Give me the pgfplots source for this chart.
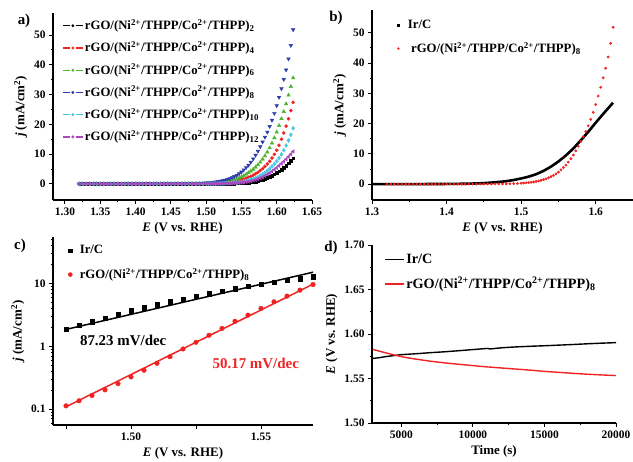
\documentclass[border=0pt]{standalone}
\usepackage{pgfplots}
\pgfplotsset{compat=1.18}
\usepackage{pgfplotstable}
\usepackage{fontspec}
\setmainfont{Liberation Serif}

\definecolor{cred}{RGB}{240,35,35}
\definecolor{cgreen}{RGB}{80,180,50}
\definecolor{cblue}{RGB}{45,60,170}
\definecolor{ccyan}{RGB}{70,200,230}
\definecolor{cmag}{RGB}{170,70,190}

\newcommand{\rgo}[1]{rGO/(Ni\textsuperscript{2+}/THPP/Co\textsuperscript{2+}/THPP)\textsubscript{#1}}

% LSV curves, panel a (a8 is reused in panel b)
\pgfplotstableread{
E a2 a4 a6 a8 a10 a12
1.320 0.02 0.03 0.05 0.04 0.03 0.02
1.325 0.02 0.03 0.05 0.04 0.03 0.02
1.330 0.02 0.03 0.05 0.04 0.03 0.02
1.335 0.02 0.03 0.05 0.04 0.03 0.02
1.340 0.02 0.03 0.05 0.04 0.03 0.02
1.345 0.02 0.03 0.05 0.04 0.03 0.02
1.350 0.02 0.03 0.05 0.04 0.03 0.02
1.355 0.02 0.03 0.05 0.04 0.03 0.02
1.360 0.02 0.03 0.05 0.04 0.03 0.02
1.365 0.02 0.03 0.05 0.04 0.03 0.02
1.370 0.02 0.03 0.05 0.04 0.03 0.02
1.375 0.02 0.03 0.05 0.04 0.03 0.02
1.380 0.02 0.03 0.05 0.04 0.03 0.02
1.385 0.02 0.03 0.05 0.04 0.03 0.02
1.390 0.02 0.03 0.05 0.04 0.03 0.02
1.395 0.02 0.03 0.05 0.04 0.03 0.02
1.400 0.02 0.03 0.05 0.04 0.03 0.02
1.405 0.03 0.05 0.07 0.06 0.04 0.03
1.410 0.03 0.05 0.07 0.06 0.04 0.03
1.415 0.03 0.05 0.07 0.06 0.04 0.03
1.420 0.03 0.05 0.07 0.06 0.04 0.03
1.425 0.03 0.05 0.07 0.06 0.04 0.03
1.430 0.03 0.05 0.07 0.06 0.04 0.03
1.435 0.03 0.05 0.07 0.06 0.04 0.03
1.440 0.03 0.05 0.07 0.06 0.04 0.03
1.445 0.03 0.05 0.08 0.07 0.04 0.03
1.450 0.03 0.06 0.09 0.075 0.05 0.04
1.455 0.03 0.06 0.10 0.08 0.05 0.04
1.460 0.03 0.07 0.11 0.085 0.05 0.04
1.465 0.035 0.07 0.12 0.09 0.05 0.045
1.470 0.035 0.08 0.13 0.10 0.05 0.045
1.475 0.035 0.08 0.14 0.113 0.055 0.05
1.480 0.035 0.09 0.15 0.136 0.055 0.05
1.485 0.04 0.09 0.17 0.165 0.06 0.05
1.490 0.04 0.10 0.18 0.203 0.06 0.055
1.495 0.04 0.11 0.20 0.255 0.065 0.055
1.5000 0.04 0.12 0.22 0.33 0.07 0.06
1.5033 0.045 0.14 0.26 0.39 0.08 0.065
1.5067 0.05 0.17 0.30 0.46 0.09 0.07
1.5100 0.05 0.20 0.35 0.54 0.10 0.08
1.5133 0.055 0.24 0.41 0.63 0.11 0.09
1.5167 0.06 0.28 0.48 0.75 0.13 0.10
1.5200 0.07 0.33 0.56 0.91 0.15 0.11
1.5233 0.08 0.39 0.66 1.07 0.17 0.13
1.5267 0.09 0.46 0.78 1.27 0.20 0.15
1.5300 0.10 0.54 0.92 1.50 0.23 0.17
1.5333 0.12 0.64 1.08 1.78 0.27 0.20
1.5367 0.14 0.75 1.27 2.12 0.32 0.23
1.5400 0.16 0.88 1.50 2.50 0.38 0.27
1.5433 0.19 1.03 1.75 2.91 0.46 0.32
1.5467 0.23 1.20 2.05 3.42 0.55 0.38
1.5500 0.28 1.40 2.40 4.01 0.66 0.46
1.5533 0.33 1.63 2.80 4.74 0.80 0.55
1.5567 0.40 1.90 3.25 5.51 0.95 0.66
1.5600 0.48 2.20 3.75 6.30 1.15 0.80
1.5633 0.58 2.55 4.30 7.30 1.38 0.96
1.5667 0.70 2.95 4.90 8.43 1.65 1.15
1.5700 0.84 3.40 5.60 9.64 1.95 1.38
1.5733 1.00 3.90 6.40 11.0 2.30 1.65
1.5767 1.20 4.50 7.30 12.5 2.75 1.95
1.5800 1.43 5.15 8.30 14.1 3.25 2.30
1.5833 1.70 5.90 9.40 15.7 3.80 2.70
1.5867 2.00 6.70 10.7 17.4 4.40 3.15
1.5900 2.35 7.60 12.1 19.3 5.10 3.65
1.5933 2.75 8.70 13.7 21.4 5.90 4.20
1.5967 3.20 9.90 15.5 23.7 6.70 4.80
1.6000 3.70 11.3 17.4 26.3 7.60 5.40
1.6033 4.25 13.0 19.6 29.1 8.70 6.10
1.6067 4.85 15.0 21.9 32.0 9.90 6.80
1.6100 5.50 17.1 24.3 35.1 11.3 7.50
1.6133 6.20 19.4 26.9 38.3 12.9 8.30
1.6167 7.00 21.9 29.8 42.0 14.6 9.10
1.6200 7.80 24.6 32.7 46.5 16.5 10.0
1.6233 8.70 27.4 35.6 51.8 18.7 10.9
}\lsv

% Ir/C LSV, panel b
\pgfplotstableread{
E j
1.300 0.02
1.310 0.02
1.320 0.03
1.330 0.03
1.340 0.04
1.350 0.04
1.360 0.05
1.370 0.06
1.380 0.07
1.390 0.08
1.400 0.10
1.410 0.12
1.420 0.15
1.430 0.19
1.440 0.26
1.450 0.36
1.460 0.55
1.470 0.75
1.480 1.00
1.490 1.40
1.500 1.90
1.510 2.50
1.520 3.30
1.530 4.40
1.540 5.80
1.550 7.50
1.560 9.50
1.570 11.8
1.580 14.5
1.590 17.3
1.600 20.3
1.610 23.2
1.620 26.0
1.6232 26.9
}\irc

% Tafel data, panel c
\pgfplotstableread{
E ir rgo
1.475 1.86 0.113
1.480 2.18 0.136
1.485 2.47 0.165
1.490 2.82 0.203
1.495 3.22 0.255
1.500 3.68 0.326
1.505 4.11 0.416
1.510 4.58 0.537
1.515 5.12 0.685
1.520 5.64 0.908
1.525 6.22 1.16
1.530 6.86 1.50
1.535 7.56 1.93
1.540 8.23 2.50
1.545 9.07 3.14
1.550 9.75 4.01
1.555 10.4 5.12
1.560 11.2 6.30
1.565 11.9 7.84
1.570 12.8 9.64
}\tafel

% chronopotentiometry, panel d
\pgfplotstableread{
t ir rgo
3000 1.5725 1.5828
3500 1.5735 1.5805
4000 1.5748 1.5785
4500 1.5758 1.5764
5000 1.5768 1.5746
5500 1.5773 1.5731
6000 1.5778 1.5718
7000 1.5790 1.5695
8000 1.5800 1.5676
9000 1.5812 1.5660
10000 1.5825 1.5645
11000 1.5838 1.5630
11200 1.5832 1.5628
12000 1.5845 1.5618
13000 1.5855 1.5606
14000 1.5862 1.5594
15000 1.5868 1.5580
16000 1.5875 1.5569
17000 1.5882 1.5558
18000 1.5890 1.5548
19000 1.5897 1.5540
20000 1.5903 1.5533
}\cp

\pgfplotsset{
  panel/.style={
    scale only axis,
    axis x line*=bottom, axis y line*=left,
    tick align=outside,
    axis line style={line width=1.1bp},
    every tick/.style={black, line width=1bp},
    major tick length=4bp, minor tick length=2.2bp,
    tick label style={font=\fontsize{11.5}{12}\selectfont\bfseries},
    label style={font=\fontsize{13}{14}\selectfont\bfseries},
    /pgf/number format/assume math mode=true,
    legend cell align=left,
    legend style={draw=none, fill=none, inner xsep=0pt, inner ysep=0pt,
      nodes={inner sep=1.5bp, text depth=0.25em},
      font=\fontsize{12.8}{13.5}\selectfont\bfseries},
  },
  lsym/.style={legend image code/.code={
      \draw[#1, line width=1.2bp] (0bp,0bp) -- (7bp,0bp);
      \draw[#1, line width=1.2bp] (13bp,0bp) -- (20bp,0bp);
      \fill[#1] (10bp,0bp) circle (1.3bp);}},
  % a filled square or dot in the middle of a 16bp legend cell
  sqmark/.style 2 args={legend image code/.code={
      \path[draw=none, fill=none] (0bp,-1bp) rectangle (16bp,1bp);
      \fill[#1, draw=none] (8bp,0bp) +(-#2,-#2) rectangle +(#2,#2);}},
  dotmark/.style 2 args={legend image code/.code={
      \path[draw=none, fill=none] (0bp,-1bp) rectangle (16bp,1bp);
      \fill[#1, draw=none] (8bp,0bp) circle (#2);}},
}

\begin{document}
\begin{tikzpicture}
\useasboundingbox (0,0) rectangle (633bp,462bp);

% a) LSV for different numbers of bilayers
\begin{axis}[panel, at={(53bp,262bp)}, anchor=south west,
  width=259bp, height=187bp,
  xmin=1.283, xmax=1.65, ymin=-5.4, ymax=57.4,
  xtick={1.30,1.35,1.40,1.45,1.50,1.55,1.60,1.65}, minor x tick num=1,
  ytick={0,10,20,30,40,50}, minor y tick num=1,
  xticklabel style={/pgf/number format/.cd,fixed,fixed zerofill,precision=2},
  xlabel={\textit{E} (V vs. RHE)},
  ylabel={\textit{j} (mA/cm\textsuperscript{2})},
  legend style={at={(axis description cs:0.035,0.975)}, anchor=north west, row sep=6.5bp}]
\addplot[only marks, mark=square*, mark size=1.3bp, black, lsym=black] table[x=E,y=a2] {\lsv};
\addlegendentry{\rgo{2}}
\addplot[only marks, mark=*, mark size=1.6bp, cred, lsym=cred] table[x=E,y=a4] {\lsv};
\addlegendentry{\rgo{4}}
\addplot[only marks, mark=triangle*, mark size=2.1bp, cgreen, lsym=cgreen] table[x=E,y=a6] {\lsv};
\addlegendentry{\rgo{6}}
\addplot[only marks, mark=triangle*, mark size=2.1bp, mark options={rotate=180}, cblue, lsym=cblue] table[x=E,y=a8] {\lsv};
\addlegendentry{\rgo{8}}
\addplot[only marks, mark=diamond*, mark size=2bp, ccyan, lsym=ccyan] table[x=E,y=a10] {\lsv};
\addlegendentry{\rgo{10}}
\addplot[only marks, mark=triangle*, mark size=2bp, mark options={rotate=90}, cmag, lsym=cmag] table[x=E,y=a12] {\lsv};
\addlegendentry{\rgo{12}}
\end{axis}

% b) Ir/C against the 8-bilayer film
\begin{axis}[panel, at={(372bp,262bp)}, anchor=south west,
  width=261bp, height=190bp,
  xmin=1.30, xmax=1.65, ymin=-5.2, ymax=57.5,
  xtick={1.3,1.4,1.5,1.6}, minor x tick num=1,
  ytick={0,10,20,30,40,50}, minor y tick num=1,
  xticklabel style={/pgf/number format/.cd,fixed,fixed zerofill,precision=1},
  xlabel={\textit{E} (V vs. RHE)},
  ylabel={\textit{j} (mA/cm\textsuperscript{2})},
  legend style={at={(axis description cs:0.07,0.955)}, anchor=north west, row sep=8bp}]
\addplot[black, line width=2.6bp, sqmark={black}{1.4bp}] table[x=E,y=j] {\irc};
\addlegendentry{Ir/C}
\addplot[only marks, mark=*, mark size=1.2bp, cred, dotmark={cred}{1.3bp}] table[x=E,y=a8] {\lsv};
\addlegendentry{\ \rgo{8}}
\end{axis}

% c) Tafel plots
\begin{semilogyaxis}[panel, at={(53bp,37bp)}, anchor=south west,
  width=260bp, height=188bp,
  xmin=1.470, xmax=1.570, ymin=0.056, ymax=55,
  xtick={1.475,1.50,1.525,1.55}, xticklabels={,1.50,,1.55},
  ytick={0.1,1,10}, yticklabels={0.1,1,10},
  minor ytick={0.06,0.07,0.08,0.09,0.2,0.3,0.4,0.5,0.6,0.7,0.8,0.9,2,3,4,5,6,7,8,9,20,30,40,50},
  xlabel={\textit{E} (V vs. RHE)},
  ylabel={\textit{j} (mA/cm\textsuperscript{2})},
  legend style={at={(axis description cs:0.035,0.965)}, anchor=north west, row sep=9bp}]
\addplot[only marks, mark=square*, mark size=2.2bp, black, sqmark={black}{2.2bp}] table[x=E,y=ir] {\tafel};
\addlegendentry{Ir/C}
\addplot[only marks, mark=*, mark size=2.3bp, cred, dotmark={cred}{2.3bp}] table[x=E,y=rgo] {\tafel};
\addlegendentry{\rgo{8}}
\addplot[black, line width=1.5bp, forget plot] coordinates {(1.475,1.86) (1.5705,15.3)};
\addplot[cred, line width=1.5bp, forget plot] coordinates {(1.475,0.109) (1.5705,10.0)};
\node[font=\fontsize{15}{16}\selectfont\bfseries, black] at (axis cs:1.497,1.26) {87.23 mV/dec};
\node[font=\fontsize{15}{16}\selectfont\bfseries, cred] at (axis cs:1.548,0.54) {50.17 mV/dec};
\end{semilogyaxis}

% d) stability at constant current
\begin{axis}[panel, at={(372bp,39bp)}, anchor=south west,
  width=244bp, height=178bp,
  xmin=2950, xmax=20000, ymin=1.50, ymax=1.70,
  xtick={5000,10000,15000,20000}, minor x tick num=1,
  ytick={1.50,1.55,1.60,1.65,1.70}, minor y tick num=1,
  scaled x ticks=false,
  xticklabel style={/pgf/number format/1000 sep={}},
  yticklabel style={/pgf/number format/.cd,fixed,fixed zerofill,precision=2},
  xlabel={Time (s)},
  ylabel={\textit{E} (V vs. RHE)},
  legend style={at={(axis description cs:0.05,0.96)}, anchor=north west, row sep=8bp,
    font=\fontsize{14.3}{15}\selectfont\bfseries}]
\addplot[black, line width=1.4bp, forget plot] table[x=t,y=ir] {\cp};
\addplot[cred, line width=1.4bp, forget plot] table[x=t,y=rgo] {\cp};
\addlegendimage{black, line width=1.4bp, legend image code/.code={\draw[black, line width=1.4bp] (0bp,0bp) -- (19bp,0bp);}}
\addlegendentry{Ir/C}
\addlegendimage{cred, line width=1.4bp, legend image code/.code={\draw[cred, line width=1.4bp] (0bp,0bp) -- (19bp,0bp);}}
\addlegendentry{\rgo{8}}
\end{axis}

\node[font=\fontsize{15}{16}\selectfont\bfseries] at (24bp,441bp) {a)};
\node[font=\fontsize{15}{16}\selectfont\bfseries] at (336bp,444bp) {b)};
\node[font=\fontsize{15}{16}\selectfont\bfseries] at (20bp,216bp) {c)};
\node[font=\fontsize{15}{16}\selectfont\bfseries] at (331bp,214bp) {d)};
\end{tikzpicture}
\end{document}
